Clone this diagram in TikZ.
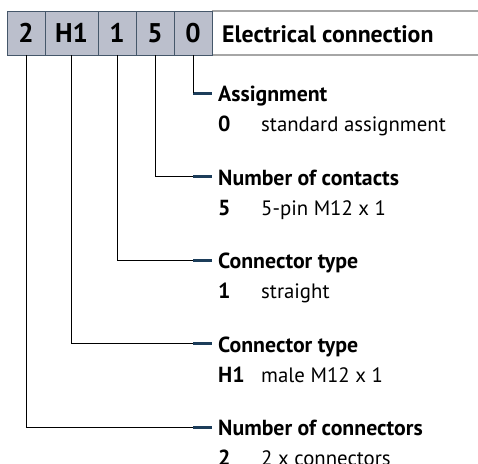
\documentclass[tikz,border=0pt]{standalone}
\usepackage{fontspec}
\setmainfont{PT Sans}
\definecolor{boxfill}{HTML}{BBBFCC}
\definecolor{boxline}{HTML}{45576A}
\definecolor{marker}{HTML}{1C3D5A}
\definecolor{titleline}{HTML}{A6A6A6}
\begin{document}
\begin{tikzpicture}[x=1pt,y=-1pt,
  codebox/.style={draw=boxline,line width=0.9pt,fill=boxfill,minimum height=44pt,inner sep=0pt,
    font=\fontsize{27}{27}\selectfont\bfseries},
  markbar/.style={fill=marker,minimum width=19pt,minimum height=3pt,inner sep=0pt,anchor=west},
  lab/.style={anchor=base west,inner sep=0pt,font=\fontsize{21.8}{21.8}\selectfont\bfseries},
  key/.style={anchor=base west,inner sep=0pt,font=\fontsize{21.8}{21.8}\selectfont\bfseries},
  val/.style={anchor=base west,inner sep=0pt,font=\fontsize{20.8}{20.8}\selectfont},
  conn/.style={draw=black,line width=0.8pt}]
\useasboundingbox (0,0) rectangle (478,463);
% title strip
\draw[titleline,line width=1.4pt] (212,11) -- (478,11);
\draw[titleline,line width=1.4pt] (212,55) -- (478,55);
\node[anchor=base west,inner sep=0pt,font=\fontsize{23.8}{23.8}\selectfont\bfseries] (title) at (222,42.5) {Electrical connection};
% code boxes
\node[codebox,minimum width=38pt] (b1) at (26,33) {2};
\node[codebox,minimum width=53pt] (b2) at (71.5,33) {H1};
\node[codebox,minimum width=38pt] (b3) at (117,33) {1};
\node[codebox,minimum width=38pt] (b4) at (155,33) {5};
\node[codebox,minimum width=38pt] (b5) at (193,33) {0};
% markers
\node[markbar] (m5) at (193,93) {};
\node[markbar] (m4) at (193,176.5) {};
\node[markbar] (m3) at (193,260) {};
\node[markbar] (m2) at (193,343.5) {};
\node[markbar] (m1) at (193,427) {};
% connectors
\draw[conn] (b5.south) -- (m5.west);
\draw[conn] (b4.south) |- (m4.west);
\draw[conn] (b3.south) |- (m3.west);
\draw[conn] (b2.south) |- (m2.west);
\draw[conn] (b1.south) |- (m1.west);
% labels
\node[lab] (l5) at (218,101.5) {Assignment};
\node[key] (k5) at (218,131.5) {0};
\node[val] (v5) at (261,131.5) {standard assignment};
\node[lab] (l4) at (218,185) {Number of contacts};
\node[key] (k4) at (218,215) {5};
\node[val] (v4) at (261,215) {5-pin M12 x 1};
\node[lab] (l3) at (218,268.5) {Connector type};
\node[key] (k3) at (218,298.5) {1};
\node[val] (v3) at (261,298.5) {straight};
\node[lab] (l2) at (218,352) {Connector type};
\node[key] (k2) at (218,382) {H1};
\node[val] (v2) at (261,382) {male M12 x 1};
\node[lab] (l1) at (218,435.5) {Number of connectors};
\node[key] (k1) at (218,465.5) {2};
\node[val] (v1) at (261,465.5) {2 x connectors};
\end{tikzpicture}
\end{document}
